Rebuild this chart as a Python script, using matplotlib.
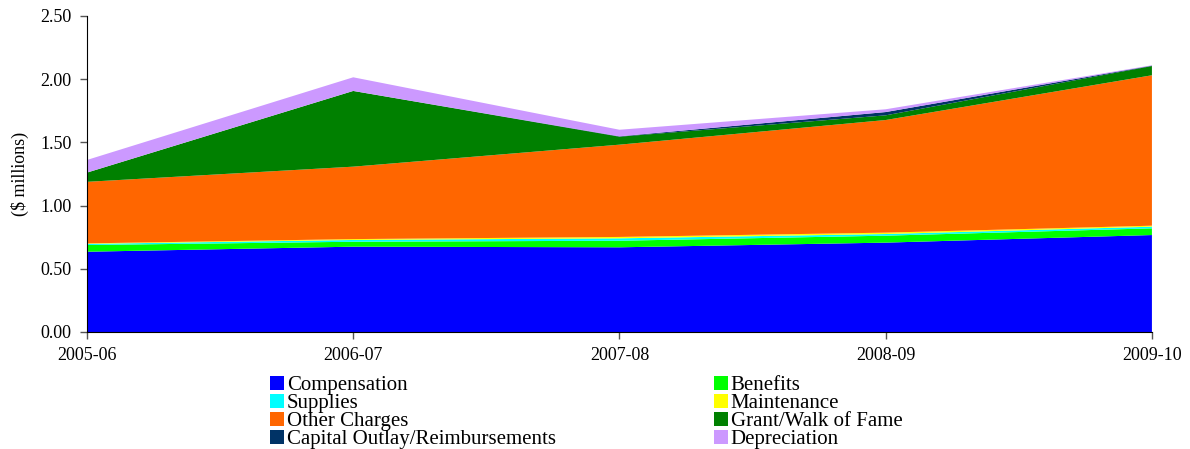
import matplotlib
matplotlib.use("Agg")
import matplotlib.pyplot as plt

years = ["2005-06", "2006-07", "2007-08", "2008-09", "2009-10"]

# $ millions
compensation = [0.635, 0.675, 0.670, 0.707, 0.767]
benefits = [0.053, 0.039, 0.052, 0.055, 0.053]
supplies = [0.009, 0.014, 0.019, 0.013, 0.013]
maintenance = [0.004, 0.007, 0.011, 0.011, 0.008]
other_charges = [0.487, 0.573, 0.730, 0.891, 1.190]
grant_walk = [0.073, 0.599, 0.063, 0.037, 0.073]
capital_outlay = [0.000, 0.000, 0.003, 0.026, 0.003]
depreciation = [0.100, 0.108, 0.052, 0.022, 0.003]

labels = ["Compensation", "Benefits", "Supplies", "Maintenance", "Other Charges",
          "Grant/Walk of Fame", "Capital Outlay/Reimbursements", "Depreciation"]
colors = ["#0000FF", "#00FF00", "#00FFFF", "#FFFF00", "#FF6600",
          "#008000", "#003366", "#CC99FF"]

plt.rcParams["font.family"] = ["Liberation Serif", "DejaVu Serif"]
plt.rcParams["font.size"] = 13

fig = plt.figure(figsize=(11.9, 4.49), dpi=100)
ax = fig.add_axes([0.0731, 0.2606, 0.8949, 0.7038])

x = list(range(len(years)))
polys = ax.stackplot(x, compensation, benefits, supplies, maintenance, other_charges,
                     grant_walk, capital_outlay, depreciation,
                     labels=labels, colors=colors, linewidth=0)

ax.set_xlim(0, len(years) - 1)
ax.set_ylim(0, 2.5)
ax.set_xticks(x)
ax.set_xticklabels(years)
ax.set_yticks([0, 0.5, 1.0, 1.5, 2.0, 2.5])
ax.set_yticklabels(["%.2f" % v for v in [0, 0.5, 1.0, 1.5, 2.0, 2.5]])
ax.set_ylabel("($ millions)", labelpad=8)
ax.tick_params(direction="out", length=5, width=1, color="#555555", pad=6)
for side in ["top", "right"]:
    ax.spines[side].set_visible(False)

# legend reads row by row: reorder for matplotlib's column filling
order = [0, 2, 4, 6, 1, 3, 5, 7]
ax.legend([polys[i] for i in order], [labels[i] for i in order], ncol=2,
          loc="upper left", bbox_to_anchor=(270 / 1190, 1 - 376 / 449),
          bbox_transform=fig.transFigure, frameon=False, borderpad=0,
          borderaxespad=0, fontsize=15, handlelength=0.65, handleheight=0.65,
          handletextpad=0.15, labelspacing=-0.06, columnspacing=7.6)

fig.savefig("out.png", dpi=100)
